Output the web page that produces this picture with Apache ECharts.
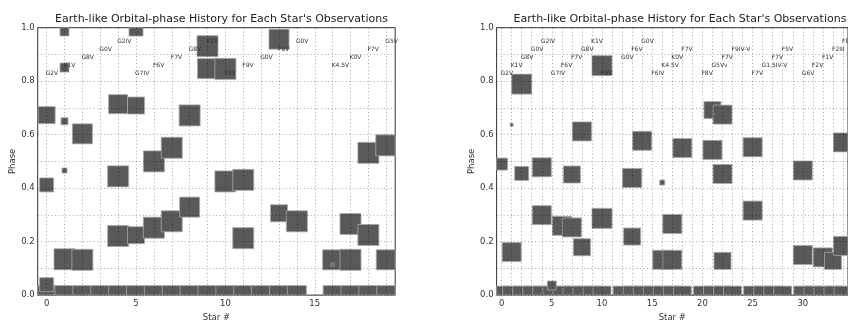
<!DOCTYPE html>
<html>
<head>
<meta charset="utf-8">
<script src="https://cdn.jsdelivr.net/npm/echarts@6.0.0/dist/echarts.min.js"></script>
<style>
  html, body { margin: 0; padding: 0; background: #fff; }
  #main { width: 848px; height: 327px; }
</style>
</head>
<body>
<div id="main"></div>
<script>
/* left panel: stars 0..19 */
var leftStar  = [0,1,2,3,4,5,6,7,8,9,10,11,12,13,14,16,17,18,19,
                 0,0,0,1,1,1,1,1,2,2,4,4,4,5,5,5,6,6,7,7,8,8,9,9,10,10,11,11,13,13,14,16,16,17,17,18,18,19,19];
var leftPhase = [0,0,0,0,0,0,0,0,0,0,0,0,0,0,0,0,0,0,0,
                 0.039,0.412,0.673,0.986,0.851,0.65,0.466,0.134,0.603,0.132,0.714,0.444,0.221,0.995,0.709,0.224,
                 0.5,0.252,0.551,0.276,0.672,0.329,0.931,0.847,0.846,0.425,0.431,0.213,0.957,0.306,0.276,
                 0.132,0.114,0.132,0.266,0.532,0.225,0.56,0.132];
var leftSize  = [19,19,19,19,19,19,19,19,19,19,19,19,19,19,19,19,19,19,19,
                 14,14,17,9,9,7,5,21,20,21,19,21,21,14,17,17,21,21,21,21,21,20,21,20,21,21,21,21,20,17,21,
                 20,3,21,21,21,21,21,20];
var leftTypes = ['G2V','K1V','G8V','G0V','G2IV','G7IV','F6V','F7V','G8V','K1V',
                 'F9V','F9V','G0V','F6V','G0V','','K4.5V','K0V','F7V','G5V'];

/* right panel: stars 0..34 */
var rightStar  = [0,1,2,3,4,5,6,7,8,9,10,12,13,14,15,16,17,18,20,21,22,23,25,26,27,28,30,31,32,33,34,
                  0,1,1,2,2,4,4,5,6,7,7,8,8,10,10,13,13,14,16,16,17,17,18,21,21,22,22,22,25,25,30,30,32,33,34,34];
var rightPhase = [0,0,0,0,0,0,0,0,0,0,0,0,0,0,0,0,0,0,0,0,0,0,0,0,0,0,0,0,0,0,0,
                  0.49,0.637,0.161,0.789,0.455,0.478,0.299,0.036,0.259,0.451,0.253,0.612,0.179,0.858,0.287,
                  0.438,0.219,0.577,0.421,0.132,0.266,0.132,0.55,0.692,0.543,0.675,0.453,0.128,0.553,0.316,
                  0.466,0.15,0.141,0.128,0.571,0.184];
var rightSize  = [18,18,18,18,18,18,18,18,18,18,18,18,18,18,18,18,18,18,18,18,18,18,18,18,18,18,18,18,18,18,18,
                  12,3,19,20,14,19,19,9,19,17,19,19,17,20,20,19,17,19,5,19,19,19,19,17,19,19,19,17,19,19,
                  19,19,19,17,19,19];
var rightTypes = ['G2V','K1V','G8V','G0V','G2IV','G7IV','F6V','F7V','G8V','K1V',
                  'F9V','','G0V','F6V','G0V','F6IV','K4.5V','K0V','F7V','',
                  'F8V','G5Vv','F7V','F9IV-V','','F7V','G1.5IV-V','F7V','F5V','',
                  'G6V','F2V','F1V','F2III','F8V'];

var titleText = "Earth-like Orbital-phase History for Each Star's Observations";
var labelLevels = [0.83, 0.86, 0.89, 0.92, 0.95];

var FONT = 'DejaVu Sans';
var myChart = echarts.init(document.getElementById('main'), null, {renderer: 'canvas'});

function squares(star, phase, size) {
    var d = [];
    for (var i = 0; i < star.length; i++) d.push([star[i], phase[i], size[i]]);
    return d;
}
function typeLabels(types) {
    var d = [];
    for (var i = 0; i < types.length; i++) {
        if (types[i]) d.push({value: [i, labelLevels[i % 5]], name: types[i]});
    }
    return d;
}
function starLines(n) {
    var d = [];
    for (var i = 0; i < n; i++) d.push({xAxis: i});
    return d;
}

function renderSquare(params, api) {
    var c = api.coord([api.value(0), api.value(1)]);
    var s = api.value(2);
    var cs = params.coordSys;
    var r = echarts.graphic.clipRectByRect(
        {x: c[0] - s / 2, y: c[1] - s / 2, width: s, height: s},
        {x: cs.x, y: cs.y, width: cs.width, height: cs.height});
    if (!r) return;
    return {
        type: 'rect',
        shape: r,
        style: {fill: '#595959', stroke: '#a8a8a8', lineWidth: 0.8}
    };
}
var labelNames = {};
function renderLabel(params, api) {
    var c = api.coord([api.value(0), api.value(1)]);
    return {
        type: 'text',
        x: c[0] - 1, y: c[1],
        style: {
            text: labelNames[params.seriesIndex][params.dataIndexInside],
            fill: '#333', font: '6px ' + FONT,
            align: 'left', verticalAlign: 'middle'
        }
    };
}

var gridLine = {type: [1, 2.5], color: 'rgba(0,0,0,0.35)', width: 1};

function makeAxes(gi, xmax, labels) {
    return {
        x: {
            type: 'value', gridIndex: gi, min: -0.5, max: xmax,
            name: 'Star #', nameLocation: 'middle', nameGap: 13,
            nameTextStyle: {fontFamily: FONT, fontSize: 8.5, color: '#333'},
            axisLine: {show: false}, axisTick: {show: false}, splitLine: {show: false},
            axisLabel: {customValues: labels, fontFamily: FONT, fontSize: 8.5, color: '#333', margin: 4}
        },
        y: {
            type: 'value', gridIndex: gi, min: 0, max: 1, interval: 0.2, z: 3,
            name: 'Phase', nameLocation: 'middle', nameGap: 20,
            nameTextStyle: {fontFamily: FONT, fontSize: 8.5, color: '#333'},
            axisLine: {show: false}, axisTick: {show: false},
            axisLabel: {formatter: function (v) { return v.toFixed(1); },
                        fontFamily: FONT, fontSize: 8.5, color: '#333', margin: 3},
            splitLine: {show: true, lineStyle: gridLine},
            minorTick: {show: false, splitNumber: 2},
            minorSplitLine: {show: true, lineStyle: gridLine}
        }
    };
}

var axL = makeAxes(0, 19.5, [0, 5, 10, 15]);
var axR = makeAxes(1, 34.5, [0, 5, 10, 15, 20, 25, 30]);

var leftLabelData = typeLabels(leftTypes);
var rightLabelData = typeLabels(rightTypes);
labelNames[2] = leftLabelData.map(function (d) { return d.name; });
labelNames[3] = rightLabelData.map(function (d) { return d.name; });

var titleStyle = {fontFamily: FONT, fontSize: 11, fontWeight: 'normal', color: '#222'};

var option = {
    animation: false,
    backgroundColor: '#fff',
    title: [
        {text: titleText, left: 216.5, top: 9, textAlign: 'center', textStyle: titleStyle},
        {text: titleText, left: 675, top: 9, textAlign: 'center', textStyle: titleStyle}
    ],
    grid: [
        {left: 37.7, top: 27.7, width: 357.5, height: 276, show: true,
         borderColor: '#333', borderWidth: 1, backgroundColor: 'transparent'},
        {left: 496.6, top: 27.7, width: 357, height: 276, show: true,
         borderColor: '#333', borderWidth: 1, backgroundColor: 'transparent'}
    ],
    xAxis: [axL.x, axR.x],
    yAxis: [axL.y, axR.y],
    series: [
        {type: 'custom', xAxisIndex: 0, yAxisIndex: 0, z: 2, silent: true,
         renderItem: renderSquare, data: squares(leftStar, leftPhase, leftSize)},
        {type: 'custom', xAxisIndex: 1, yAxisIndex: 1, z: 2, silent: true,
         renderItem: renderSquare, data: squares(rightStar, rightPhase, rightSize)},
        {type: 'custom', xAxisIndex: 0, yAxisIndex: 0, z: 4, silent: true,
         renderItem: renderLabel, data: leftLabelData,
         markLine: {silent: true, symbol: 'none', label: {show: false}, lineStyle: gridLine,
                    data: starLines(leftTypes.length)}},
        {type: 'custom', xAxisIndex: 1, yAxisIndex: 1, z: 4, silent: true,
         renderItem: renderLabel, data: rightLabelData,
         markLine: {silent: true, symbol: 'none', label: {show: false}, lineStyle: gridLine,
                    data: starLines(rightTypes.length)}}
    ]
};
myChart.setOption(option);
</script>
</body>
</html>
